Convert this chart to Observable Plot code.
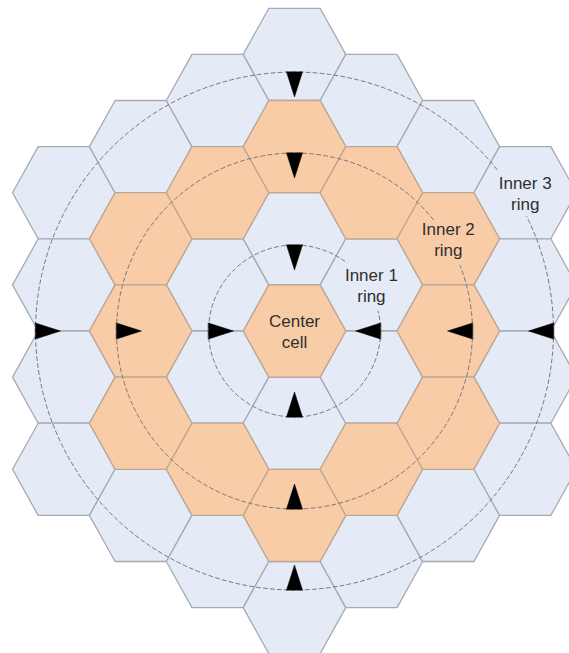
<!DOCTYPE html>
<html><head><meta charset="utf-8">
<script src="https://cdn.jsdelivr.net/npm/d3@7"></script>
<script src="https://cdn.jsdelivr.net/npm/@observablehq/plot@0.6"></script>
<style>html,body{margin:0;padding:0;background:#fff;}</style>
</head><body><div id="chart"></div>
<script>
// ---- data ----
const rings = [0, 1, 2, 3];
const ringShade = ["shaded", "plain", "shaded", "plain"];
const circleRings = [1, 2, 3];
const circleRadius = [86, 178, 259];
const labelTexts = ["Center\ncell", "Inner 1\nring", "Inner 2\nring", "Inner 3\nring"];
const labelRing = [0, 1, 2, 3];
const arrowSides = ["left", "right", "top", "bottom"];

// ---- layout ----
const W = 569, H = 653, CX = 294, CY = 330.5;
const COL = 76.9, ROW = 92.2, HW = COL / 1.5;
const ARROW_LEN = 25, ARROW_HALF = 8;

const maxRing = d3.max(rings);
const cells = [];
for (let q = -maxRing; q <= maxRing; q++) {
  for (let r = -maxRing; r <= maxRing; r++) {
    const ring = Math.max(Math.abs(q), Math.abs(r), Math.abs(q + r));
    if (ring > maxRing) continue;
    cells.push({id: `${q},${r}`, q, r, ring, shade: ringShade[ring], cx: q * COL, cy: (r + q / 2) * ROW});
  }
}
const hexPts = cells.flatMap(c => [
  [HW, 0], [HW / 2, ROW / 2], [-HW / 2, ROW / 2], [-HW, 0], [-HW / 2, -ROW / 2], [HW / 2, -ROW / 2]
].map(([dx, dy]) => ({id: c.id, shade: c.shade, x: c.cx + dx, y: c.cy + dy})));

const circlePts = circleRings.flatMap((ring, i) =>
  d3.range(0, 360, 2).map(a => ({ring, x: circleRadius[i] * Math.cos(a * Math.PI / 180), y: circleRadius[i] * Math.sin(a * Math.PI / 180)})));

const dirs = {left: [-1, 0], right: [1, 0], top: [0, -1], bottom: [0, 1]};
const arrowPts = circleRings.flatMap((ring, i) => arrowSides.flatMap(side => {
  const [dx, dy] = dirs[side], R = circleRadius[i], id = `${ring}-${side}`;
  const px = -dy, py = dx;
  return [
    {id, x: R * dx + ARROW_HALF * px, y: R * dy + ARROW_HALF * py},
    {id, x: (R - ARROW_LEN) * dx, y: (R - ARROW_LEN) * dy},
    {id, x: R * dx - ARROW_HALF * px, y: R * dy - ARROW_HALF * py}
  ];
}));

const labels = labelTexts.map((text, i) => {
  const ring = labelRing[i];
  const q = ring, r = -ring;
  return {text, shade: ringShade[ring], x: q * COL, y: (r + q / 2) * ROW};
});

const chart = Plot.plot({
  width: W, height: H,
  margin: 0,
  x: {domain: [-CX, W - CX], range: [0, W], axis: null},
  y: {domain: [-CY, H - CY], range: [0, H], axis: null},
  color: {type: "ordinal", domain: ["shaded", "plain"], range: ["#F9CCA8", "#E5EBF6"]},
  marks: [
    Plot.line(hexPts.filter(d => d.shade === "plain"), {x: "x", y: "y", z: "id", fill: "shade", stroke: "#a6aab2", strokeWidth: 1.3, curve: "linear-closed"}),
    Plot.line(hexPts.filter(d => d.shade === "shaded"), {x: "x", y: "y", z: "id", fill: "shade", stroke: "#bda692", strokeWidth: 1.3, curve: "linear-closed"}),
    Plot.line(circlePts, {x: "x", y: "y", z: "ring", stroke: "#7a7a7a", strokeWidth: 1, strokeDasharray: "4,3", curve: "linear-closed"}),
    Plot.line(arrowPts, {x: "x", y: "y", z: "id", fill: "#000", stroke: "#000", strokeWidth: 0.5, curve: "linear-closed"}),
    Plot.text(labels, {x: "x", y: "y", text: "text", fontSize: 17, lineHeight: 1.25, fontFamily: "Liberation Sans, Arial, sans-serif", fill: "#2f2f2f", stroke: "shade", strokeWidth: 12, strokeLinejoin: "round"})
  ]
});
document.getElementById("chart").appendChild(chart);
</script>
</body></html>
